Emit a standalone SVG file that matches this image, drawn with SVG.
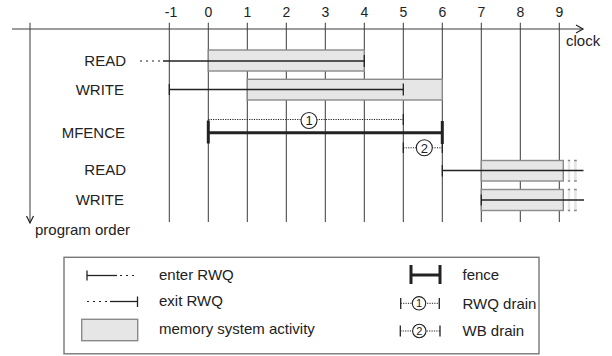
<svg xmlns="http://www.w3.org/2000/svg" width="612" height="356" viewBox="0 0 612 356">
<style>
text{font-family:"Liberation Sans",Arial,sans-serif;fill:#222;font-size:15px}
.num{font-size:14px;text-anchor:middle}
.lbl{text-anchor:end}
.grid{stroke:#3a3a3a;stroke-width:1;fill:none}
.ln{stroke:#222;stroke-width:1.3;fill:none}
.dot{stroke:#222;stroke-width:1.2;stroke-dasharray:2 4;fill:none}
.fdot{stroke:#222;stroke-width:1;stroke-dasharray:1.2 1.2;fill:none}
.thick{stroke:#222;stroke-width:3;fill:none}
.box{fill:#e6e6e6;stroke:#8a8a8a;stroke-width:1.4}
.circ{fill:#fff;stroke:#222;stroke-width:1.1}
.cn{font-size:13px;text-anchor:middle}
.lcn{font-size:11px;text-anchor:middle}
.arr{stroke:#222;stroke-width:1.2;fill:none}
</style>
<g id="axes">
  <line class="grid" x1="12" y1="29" x2="583" y2="29"/>
  <path class="arr" d="M576,25 L583,29 L576,33"/>
  <text x="566" y="46">clock</text>
  <line class="grid" x1="30" y1="22.7" x2="30" y2="223"/>
  <path class="arr" d="M26.5,216 L30,223 L33.5,216"/>
  <text x="35" y="235">program order</text>
</g>
<g id="grid">
  <line class="grid" x1="169.3" y1="22.7" x2="169.3" y2="222"/>
  <line class="grid" x1="208.3" y1="22.7" x2="208.3" y2="222"/>
  <line class="grid" x1="247.3" y1="22.7" x2="247.3" y2="222"/>
  <line class="grid" x1="286.3" y1="22.7" x2="286.3" y2="222"/>
  <line class="grid" x1="325.3" y1="22.7" x2="325.3" y2="222"/>
  <line class="grid" x1="364.3" y1="22.7" x2="364.3" y2="222"/>
  <line class="grid" x1="403.3" y1="22.7" x2="403.3" y2="222"/>
  <line class="grid" x1="442.3" y1="22.7" x2="442.3" y2="222"/>
  <line class="grid" x1="481.3" y1="22.7" x2="481.3" y2="222"/>
  <line class="grid" x1="520.3" y1="22.7" x2="520.3" y2="222"/>
  <line class="grid" x1="559.3" y1="22.7" x2="559.3" y2="222"/>
  <text class="num" x="171" y="17">-1</text>
  <text class="num" x="208.3" y="17">0</text>
  <text class="num" x="247.3" y="17">1</text>
  <text class="num" x="286.3" y="17">2</text>
  <text class="num" x="325.3" y="17">3</text>
  <text class="num" x="364.3" y="17">4</text>
  <text class="num" x="403.3" y="17">5</text>
  <text class="num" x="442.3" y="17">6</text>
  <text class="num" x="481.3" y="17">7</text>
  <text class="num" x="520.3" y="17">8</text>
  <text class="num" x="559.3" y="17">9</text>
</g>
<g id="read1">
  <text class="lbl" x="126" y="66">READ</text>
  <rect class="box" x="208.3" y="50" width="156" height="21"/>
  <line class="dot" x1="140" y1="61" x2="163" y2="61"/>
  <line class="ln" x1="163" y1="61" x2="364.3" y2="61"/>
  <line class="ln" x1="364.3" y1="55" x2="364.3" y2="67"/>
</g>
<g id="write1">
  <text class="lbl" x="124" y="95">WRITE</text>
  <rect class="box" x="247.3" y="79.3" width="195" height="20.7"/>
  <line class="ln" x1="169.3" y1="89.5" x2="403.3" y2="89.5"/>
  <line class="ln" x1="169.3" y1="84" x2="169.3" y2="95"/>
  <line class="ln" x1="403.3" y1="83.5" x2="403.3" y2="95.5"/>
</g>
<g id="mfence">
  <text class="lbl" x="125" y="138">MFENCE</text>
  <line class="fdot" x1="208.3" y1="119.5" x2="403.3" y2="119.5"/>
  <line class="ln" x1="403.3" y1="114" x2="403.3" y2="125"/>
  <circle class="circ" cx="309" cy="120.5" r="8"/>
  <text class="cn" x="309" y="125.3">1</text>
  <line class="thick" x1="208.3" y1="132.7" x2="442.3" y2="132.7"/>
  <line class="thick" x1="208.3" y1="120.5" x2="208.3" y2="143.5"/>
  <line class="thick" x1="442.3" y1="121" x2="442.3" y2="144"/>
  <line class="fdot" x1="403.3" y1="147.8" x2="442.3" y2="147.8"/>
  <line class="ln" x1="403.3" y1="142.5" x2="403.3" y2="153"/>
  <line class="ln" x1="442.3" y1="142.5" x2="442.3" y2="153"/>
  <circle class="circ" cx="424.3" cy="147.8" r="8"/>
  <text class="cn" x="424.3" y="152.6">2</text>
</g>
<g id="read2">
  <text class="lbl" x="126" y="175">READ</text>
  <rect class="box" x="481.3" y="160.5" width="82" height="20.5"/>
  <rect x="567.8" y="160.5" width="2.4" height="20.5" fill="#e6e6e6"/>
  <rect x="574" y="160.5" width="2.8" height="20.5" fill="#e6e6e6"/>
  <path d="M567.8,160.5h2.4M574,160.5h2.8M567.8,181h2.4M574,181h2.8" stroke="#8a8a8a" stroke-width="1.4"/>
  <line class="ln" x1="442.3" y1="170.5" x2="583.5" y2="170.5"/>
  <line class="ln" x1="442.3" y1="165" x2="442.3" y2="176.5"/>
</g>
<g id="write2">
  <text class="lbl" x="124" y="205">WRITE</text>
  <rect class="box" x="481.3" y="189.5" width="82" height="21"/>
  <rect x="567.8" y="189.5" width="2.4" height="21" fill="#e6e6e6"/>
  <rect x="574" y="189.5" width="2.8" height="21" fill="#e6e6e6"/>
  <path d="M567.8,189.5h2.4M574,189.5h2.8M567.8,210.5h2.4M574,210.5h2.8" stroke="#8a8a8a" stroke-width="1.4"/>
  <line class="ln" x1="481.3" y1="200" x2="584" y2="200"/>
  <line class="ln" x1="481.3" y1="194.5" x2="481.3" y2="205.5"/>
</g>
<g id="legend">
  <rect x="64" y="257.3" width="475" height="96.5" fill="none" stroke="#777" stroke-width="1.4"/>
  <line class="ln" x1="87" y1="270.5" x2="87" y2="280.5"/>
  <line class="ln" x1="87" y1="275.5" x2="117" y2="275.5"/>
  <line class="dot" x1="120" y1="275.5" x2="138" y2="275.5"/>
  <text x="159" y="280">enter RWQ</text>
  <line class="dot" x1="87" y1="301.5" x2="107" y2="301.5"/>
  <line class="ln" x1="110" y1="301.5" x2="137.5" y2="301.5"/>
  <line class="ln" x1="137.5" y1="296.5" x2="137.5" y2="307"/>
  <text x="159" y="306">exit RWQ</text>
  <rect class="box" x="81.7" y="319.3" width="56" height="21.4"/>
  <text x="159" y="334">memory system activity</text>
  <line class="thick" x1="411" y1="275" x2="440" y2="275"/>
  <line class="thick" x1="411" y1="265" x2="411" y2="284"/>
  <line class="thick" x1="440" y1="265" x2="440" y2="284"/>
  <text x="462.5" y="280">fence</text>
  <line class="fdot" x1="400.7" y1="303.3" x2="439.3" y2="303.3"/>
  <line class="ln" x1="400.7" y1="298" x2="400.7" y2="309"/>
  <line class="ln" x1="439.3" y1="298" x2="439.3" y2="309"/>
  <circle class="circ" cx="419" cy="303.3" r="6.7"/>
  <text class="lcn" x="419" y="307.3">1</text>
  <text x="462.5" y="309">RWQ drain</text>
  <line class="fdot" x1="400.3" y1="331" x2="440" y2="331"/>
  <line class="ln" x1="400.3" y1="325.5" x2="400.3" y2="336.5"/>
  <line class="ln" x1="440" y1="325.5" x2="440" y2="336.5"/>
  <circle class="circ" cx="419.3" cy="331" r="6.7"/>
  <text class="lcn" x="419.3" y="335">2</text>
  <text x="462.5" y="336">WB drain</text>
</g>
</svg>
